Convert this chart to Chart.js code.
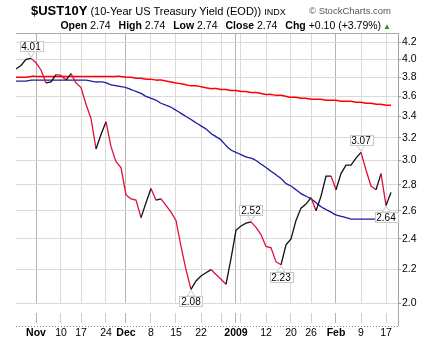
<!DOCTYPE html>
<html>
<head>
<meta charset="utf-8">
<script src="https://cdn.jsdelivr.net/npm/chart.js@4.4.1/dist/chart.umd.min.js"></script>
<style>
  body { margin: 0; background: #fff; font-family: "Liberation Sans", Arial, sans-serif; }
  #wrap { position: relative; width: 429px; height: 347px; overflow: hidden; }
  #chart { position: absolute; left: 0; top: 0; }
  .hdr { position: absolute; white-space: nowrap; color: #000; }
  #title { left: 31px; top: 3px; line-height: 15px; font-size: 11px; }
  #title b { font-size: 13px; }
  #title .ind { font-size: 9px; margin-left: 3px; }
  #copy { left: 309px; top: 5px; font-size: 9.5px; color: #555; line-height: 12px; }
  #quote { right: 38px; top: 18px; font-size: 10.5px; line-height: 14px; }
  #quote b { margin-left: 5px; }
  #quote .tri { color: #1a9a1a; font-size: 8px; margin-left: 2px; }
</style>
</head>
<body>
<div id="wrap">
  <canvas id="chart" width="429" height="347"></canvas>
  <div class="hdr" id="title"><b>$UST10Y</b> (10-Year US Treasury Yield (EOD))<span class="ind">INDX</span></div>
  <div class="hdr" id="copy">© StockCharts.com</div>
  <div class="hdr" id="quote"><b>Open</b> 2.74 <b>High</b> 2.74 <b>Low</b> 2.74 <b>Close</b> 2.74 <b>Chg</b> +0.10 (+3.79%)<span class="tri">▲</span></div>
</div>
<script>
// trading days shown on the chart
const dates = [
  '2008-10-28','2008-10-29','2008-10-30','2008-10-31',
  '2008-11-03','2008-11-04','2008-11-05','2008-11-06','2008-11-07',
  '2008-11-10','2008-11-12','2008-11-13','2008-11-14',
  '2008-11-17','2008-11-18','2008-11-19','2008-11-20','2008-11-21',
  '2008-11-24','2008-11-25','2008-11-26','2008-11-28',
  '2008-12-01','2008-12-02','2008-12-03','2008-12-04','2008-12-05',
  '2008-12-08','2008-12-09','2008-12-10','2008-12-11','2008-12-12',
  '2008-12-15','2008-12-16','2008-12-17','2008-12-18','2008-12-19',
  '2008-12-22','2008-12-23','2008-12-24','2008-12-26',
  '2008-12-29','2008-12-30','2008-12-31',
  '2009-01-02',
  '2009-01-05','2009-01-06','2009-01-07','2009-01-08','2009-01-09',
  '2009-01-12','2009-01-13','2009-01-14','2009-01-15','2009-01-16',
  '2009-01-20','2009-01-21','2009-01-22','2009-01-23',
  '2009-01-26','2009-01-27','2009-01-28','2009-01-29','2009-01-30',
  '2009-02-02','2009-02-03','2009-02-04','2009-02-05','2009-02-06',
  '2009-02-09','2009-02-10','2009-02-11','2009-02-12','2009-02-13',
  '2009-02-17','2009-02-18'
];

const closes = [
  3.89,3.93,4.00,4.01,3.96,3.88,3.74,3.75,3.83,3.82,
  3.77,3.84,3.74,3.69,3.52,3.38,3.10,3.23,3.35,3.12,
  2.99,2.94,2.72,2.69,2.68,2.55,2.66,2.77,2.68,2.69,
  2.64,2.59,2.53,2.35,2.20,2.08,2.13,2.16,2.18,2.20,
  2.17,2.14,2.11,2.27,2.46,2.49,2.51,2.52,2.48,2.43,
  2.35,2.34,2.25,2.23,2.36,2.40,2.53,2.62,2.65,2.70,
  2.60,2.71,2.87,2.87,2.76,2.89,2.96,2.96,3.02,3.07,
  2.92,2.79,2.76,2.89,2.64,2.74
];

const ma50 = [
  3.76,3.76,3.76,3.77,3.77,3.77,3.77,3.77,3.77,3.77,
  3.77,3.77,3.77,3.77,3.77,3.76,3.75,3.75,3.74,3.72,
  3.71,3.70,3.69,3.67,3.65,3.63,3.60,3.58,3.56,3.53,
  3.51,3.49,3.46,3.43,3.40,3.37,3.34,3.31,3.28,3.24,
  3.21,3.18,3.13,3.09,3.07,3.05,3.03,3.02,3.00,2.97,
  2.94,2.91,2.88,2.85,2.81,2.79,2.76,2.73,2.71,2.69,
  2.66,2.63,2.61,2.59,2.57,2.56,2.55,2.54,2.54,2.54,
  2.54,2.54,2.54,2.54,2.54,2.54
];

const ma200 = [
  3.80,3.80,3.80,3.81,3.81,3.81,3.81,3.81,3.81,3.81,
  3.81,3.81,3.81,3.81,3.81,3.81,3.81,3.81,3.81,3.81,
  3.81,3.81,3.80,3.80,3.79,3.79,3.78,3.78,3.77,3.77,
  3.76,3.75,3.74,3.73,3.72,3.71,3.71,3.70,3.69,3.68,
  3.68,3.67,3.67,3.66,3.66,3.65,3.65,3.64,3.64,3.63,
  3.62,3.62,3.61,3.61,3.60,3.59,3.59,3.58,3.58,3.57,
  3.57,3.57,3.56,3.56,3.56,3.55,3.55,3.55,3.54,3.54,
  3.53,3.53,3.52,3.52,3.51,3.51
];

// x axis: week lines (index into dates) and their labels
const tickIdx    = [4, 9, 13, 18, 22, 27, 32, 37, 41, 44, 45, 50, 55, 59, 64, 69, 74];
const tickLabels = ['Nov','10','17','24','Dec','8','15','22','','2009','','12','20','26','Feb','9','17'];
const monthLabels = ['Nov','Dec','2009','Feb'];

const yTicks = [2.0, 2.2, 2.4, 2.6, 2.8, 3.0, 3.2, 3.4, 3.6, 3.8, 4.0, 4.2];

// labelled highs / lows: [index, side]
const callouts = [[3,'up'], [35,'down'], [47,'up'], [53,'down'], [69,'up'], [74,'down']];

const upColor = '#111111';
const downColor = '#e0103c';
const FONT = '"Liberation Sans", Arial, sans-serif';

function labelAt(v) {
  const k = tickIdx.indexOf(v);
  return k >= 0 ? tickLabels[k] : '';
}
function isMonth(c) {
  return !!(c && c.tick) && monthLabels.includes(labelAt(c.tick.value));
}

const toPts = arr => dates.map((d, i) => ({ x: i, y: arr[i] }));

// frame: top border, dotted bottom of date band, right edge of the band
const frame = {
  id: 'frame',
  afterDraw(chart) {
    const { ctx, chartArea: a } = chart;
    ctx.save();
    ctx.strokeStyle = '#a8a8a8';
    ctx.lineWidth = 1;
    ctx.beginPath();
    ctx.moveTo(a.left, a.top + 0.5);
    ctx.lineTo(a.right, a.top + 0.5);
    ctx.moveTo(a.right + 0.5, a.bottom);
    ctx.lineTo(a.right + 0.5, a.bottom + 22);
    ctx.stroke();
    ctx.strokeStyle = '#888';
    ctx.setLineDash([1, 2]);
    ctx.beginPath();
    ctx.moveTo(a.left, a.bottom + 22.5);
    ctx.lineTo(a.right, a.bottom + 22.5);
    ctx.stroke();
    ctx.restore();
  }
};

// value boxes at the highs and lows
const markers = {
  id: 'markers',
  afterDatasetsDraw(chart) {
    const { ctx } = chart;
    const x = chart.scales.x, y = chart.scales.y;
    ctx.save();
    ctx.font = '10px ' + FONT;
    ctx.textAlign = 'center';
    ctx.textBaseline = 'middle';
    ctx.lineWidth = 1;
    callouts.forEach(([i, side]) => {
      const v = closes[i];
      const px = x.getPixelForValue(i);
      const py = y.getPixelForValue(v);
      const txt = v.toFixed(2);
      const w = Math.round(ctx.measureText(txt).width) + 4;
      const h = 10;
      const dir = side === 'up' ? -1 : 1;
      const edge = Math.round(py + dir * 7);
      const top = dir < 0 ? edge - h : edge;
      const left = Math.round(px - w / 2);
      ctx.fillStyle = '#fff';
      ctx.strokeStyle = '#c8c8c8';
      ctx.beginPath();
      ctx.moveTo(px - 4, edge);
      ctx.lineTo(px, py + dir);
      ctx.lineTo(px + 4, edge);
      ctx.closePath();
      ctx.fill();
      ctx.stroke();
      ctx.fillRect(left + 0.5, top + 0.5, w, h);
      ctx.strokeRect(left + 0.5, top + 0.5, w, h);
      ctx.fillStyle = '#000';
      ctx.fillText(txt, px, top + h / 2 + 1);
    });
    ctx.restore();
  }
};

new Chart(document.getElementById('chart'), {
  type: 'line',
  data: {
    datasets: [
      {
        label: '$UST10Y',
        data: toPts(closes),
        borderWidth: 1.3,
        borderColor: upColor,
        pointRadius: 0,
        tension: 0,
        segment: {
          borderColor: c => c.p1.parsed.y < c.p0.parsed.y ? downColor : upColor
        },
        order: 0
      },
      {
        label: 'MA(50)',
        data: toPts(ma50),
        borderWidth: 1.3,
        borderColor: '#1c1ca0',
        pointRadius: 0,
        tension: 0.3,
        order: 1
      },
      {
        label: 'MA(200)',
        data: toPts(ma200),
        borderWidth: 1.5,
        borderColor: '#ff0000',
        pointRadius: 0,
        tension: 0.3,
        order: 2
      }
    ]
  },
  options: {
    responsive: false,
    animation: false,
    events: [],
    layout: { padding: { left: 16, top: 33, right: 0, bottom: 0 } },
    plugins: {
      legend: { display: false },
      tooltip: { enabled: false }
    },
    scales: {
      x: {
        type: 'linear',
        bounds: 'data',
        min: 0,
        max: 76.4,
        afterBuildTicks: s => { s.ticks = tickIdx.map(v => ({ value: v })); },
        afterFit: s => { s.height = 43; },
        border: { display: false },
        grid: {
          color: c => isMonth(c) ? '#b4b4b4' : '#dadada',
          tickColor: c => isMonth(c) ? '#b4b4b4' : '#d0d0d0',
          tickLength: 19,
          tickBorderDash: [10, 9],
          tickBorderDashOffset: 10
        },
        ticks: {
          autoSkip: false,
          maxRotation: 0,
          minRotation: 0,
          padding: 4,
          color: '#000',
          font: c => ({ family: FONT, size: 10.5, weight: isMonth(c) ? 'bold' : 'normal' }),
          callback: v => labelAt(v)
        }
      },
      y: {
        type: 'logarithmic',
        position: 'right',
        bounds: 'data',
        min: 1.995,
        max: 4.31,
        afterBuildTicks: s => { s.ticks = yTicks.map(v => ({ value: v })); },
        afterFit: s => { s.width = 31; },
        border: { display: true, color: '#a0a0a0' },
        grid: {
          color: '#dadada',
          tickColor: '#a0a0a0',
          tickLength: 3
        },
        ticks: {
          padding: 1,
          color: '#000',
          font: { family: FONT, size: 10.5 },
          callback: v => Number(v).toFixed(1)
        }
      }
    }
  },
  plugins: [frame, markers]
});
</script>
</body>
</html>
